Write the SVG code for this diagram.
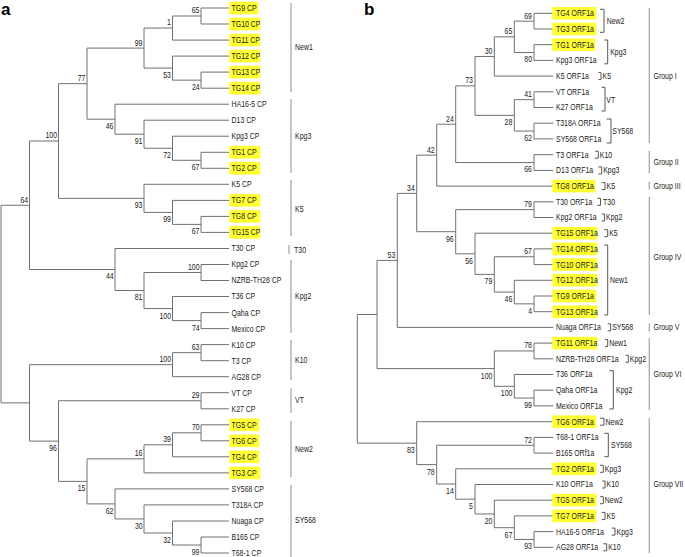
<svg xmlns="http://www.w3.org/2000/svg" width="685" height="557" viewBox="0 0 685 557">
<style>
text{font-family:"Liberation Sans",Arial,sans-serif;font-size:8.5px;fill:#222;transform-box:fill-box;transform-origin:left center;transform:scaleX(.82)}
.s text{text-anchor:end;transform-origin:right center}
.br{fill:none;stroke:#707070;stroke-width:1}
.hl{fill:#ffff33}
.grp{stroke:#aaa;stroke-width:1.3;fill:none}
.bk{fill:none;stroke:#444;stroke-width:0.9}
text.pl{font-size:17px;font-weight:bold;fill:#000;transform:none}
</style>
<text class="pl" x="1" y="15">a</text>
<text class="pl" x="364" y="15">b</text>
<g id="a-connectors" class="br">
<path d="M229 8H201V24H229"/>
<path d="M201 16H172.5V40.1H229"/>
<path d="M229 72.1H201V88.2H229"/>
<path d="M229 56.1H172.5V80.15H201"/>
<path d="M172.5 28.05H144V68.1H172.5"/>
<path d="M229 104.2H115V134.2H144"/>
<path d="M229 120.2H144V148.25H172.5"/>
<path d="M229 136.2H172.5V160.3H201"/>
<path d="M229 152.3H201V168.3H229"/>
<path d="M144 48.1H87V119.2H115"/>
<path d="M87 83.65H58.5V198.35H144"/>
<path d="M229 184.3H144V212.4H172.5"/>
<path d="M229 200.4H172.5V224.4H201"/>
<path d="M229 216.4H201V232.4H229"/>
<path d="M58.5 141H29.5V269.5H115"/>
<path d="M229 248.5H115V290.5H144"/>
<path d="M201 272.5H144V308.55H172.5"/>
<path d="M229 264.5H201V280.5H229"/>
<path d="M229 296.5H172.5V320.6H201"/>
<path d="M229 312.6H201V328.6H229"/>
<path d="M29.5 205.25H1V402.9H29.5"/>
<path d="M172.5 364.7H29.5V441.1H58.5"/>
<path d="M201 352.65H172.5V376.7H229"/>
<path d="M229 344.6H201V360.7H229"/>
<path d="M201 400.75H58.5V481.4H87"/>
<path d="M229 392.7H201V408.8H229"/>
<path d="M144 458.85H87V503.9H115"/>
<path d="M172.5 444.8H144V472.9H229"/>
<path d="M201 432.8H172.5V456.8H229"/>
<path d="M229 424.8H201V440.8H229"/>
<path d="M229 488.9H115V518.95H144"/>
<path d="M229 504.9H144V533H172.5"/>
<path d="M229 521H172.5V545H201"/>
<path d="M229 537H201V553H229"/>
</g>
<g id="a-support" class="s">
<text x="199.5" y="13.5">65</text>
<text x="171" y="25.5">1</text>
<text x="142.5" y="45.6">99</text>
<text x="171" y="78.1">53</text>
<text x="199.5" y="90.2">24</text>
<text x="85.5" y="81.2">77</text>
<text x="113.5" y="129.2">46</text>
<text x="57" y="138.5">100</text>
<text x="142.5" y="144.2">91</text>
<text x="171" y="158.3">72</text>
<text x="199.5" y="170.3">67</text>
<text x="28" y="202.8">64</text>
<text x="142.5" y="208.4">93</text>
<text x="171" y="222.4">99</text>
<text x="199.5" y="234.4">67</text>
<text x="113.5" y="279.5">44</text>
<text x="199.5" y="270">100</text>
<text x="142.5" y="300.5">81</text>
<text x="171" y="318.6">100</text>
<text x="199.5" y="330.6">74</text>
<text x="199.5" y="350.2">63</text>
<text x="171" y="362.2">100</text>
<text x="199.5" y="398.3">29</text>
<text x="57" y="451.1">96</text>
<text x="199.5" y="430.3">70</text>
<text x="171" y="442.3">39</text>
<text x="142.5" y="456.4">16</text>
<text x="85.5" y="491.4">15</text>
<text x="113.5" y="513.9">62</text>
<text x="142.5" y="529">30</text>
<text x="171" y="543">32</text>
<text x="199.5" y="555">99</text>
</g>
<g id="a-leaves">
<g id="a-TG9"><rect class="hl" x="229.3" y="1.7" width="29" height="12.6"/><text x="231.5" y="11">TG9 CP</text></g>
<g id="a-TG10"><rect class="hl" x="229.3" y="17.7" width="31" height="12.6"/><text x="231.5" y="27">TG10 CP</text></g>
<g id="a-TG11"><rect class="hl" x="229.3" y="33.8" width="31" height="12.6"/><text x="231.5" y="43.1">TG11 CP</text></g>
<g id="a-TG12"><rect class="hl" x="229.3" y="49.8" width="31" height="12.6"/><text x="231.5" y="59.1">TG12 CP</text></g>
<g id="a-TG13"><rect class="hl" x="229.3" y="65.8" width="31" height="12.6"/><text x="231.5" y="75.1">TG13 CP</text></g>
<g id="a-TG14"><rect class="hl" x="229.3" y="81.9" width="31" height="12.6"/><text x="231.5" y="91.2">TG14 CP</text></g>
<g id="a-HA16-5"><text x="231.5" y="107.2">HA16-5 CP</text></g>
<g id="a-D13"><text x="231.5" y="123.2">D13 CP</text></g>
<g id="a-Kpg3"><text x="231.5" y="139.2">Kpg3 CP</text></g>
<g id="a-TG1"><rect class="hl" x="229.3" y="146" width="31" height="12.6"/><text x="231.5" y="155.3">TG1 CP</text></g>
<g id="a-TG2"><rect class="hl" x="229.3" y="162" width="31" height="12.6"/><text x="231.5" y="171.3">TG2 CP</text></g>
<g id="a-K5"><text x="231.5" y="187.3">K5 CP</text></g>
<g id="a-TG7"><rect class="hl" x="229.3" y="194.1" width="31" height="12.6"/><text x="231.5" y="203.4">TG7 CP</text></g>
<g id="a-TG8"><rect class="hl" x="229.3" y="210.1" width="31" height="12.6"/><text x="231.5" y="219.4">TG8 CP</text></g>
<g id="a-TG15"><rect class="hl" x="229.3" y="226.1" width="31" height="12.6"/><text x="231.5" y="235.4">TG15 CP</text></g>
<g id="a-T30"><text x="231.5" y="251.5">T30 CP</text></g>
<g id="a-Kpg2"><text x="231.5" y="267.5">Kpg2 CP</text></g>
<g id="a-NZRB"><text x="231.5" y="283.5">NZRB-TH28 CP</text></g>
<g id="a-T36"><text x="231.5" y="299.5">T36 CP</text></g>
<g id="a-Qaha"><text x="231.5" y="315.6">Qaha CP</text></g>
<g id="a-Mexico"><text x="231.5" y="331.6">Mexico CP</text></g>
<g id="a-K10"><text x="231.5" y="347.6">K10 CP</text></g>
<g id="a-T3"><text x="231.5" y="363.7">T3 CP</text></g>
<g id="a-AG28"><text x="231.5" y="379.7">AG28 CP</text></g>
<g id="a-VT"><text x="231.5" y="395.7">VT CP</text></g>
<g id="a-K27"><text x="231.5" y="411.8">K27 CP</text></g>
<g id="a-TG5"><rect class="hl" x="229.3" y="418.5" width="30" height="12.6"/><text x="231.5" y="427.8">TG5 CP</text></g>
<g id="a-TG6"><rect class="hl" x="229.3" y="434.5" width="30" height="12.6"/><text x="231.5" y="443.8">TG6 CP</text></g>
<g id="a-TG4"><rect class="hl" x="229.3" y="450.5" width="30" height="12.6"/><text x="231.5" y="459.8">TG4 CP</text></g>
<g id="a-TG3"><rect class="hl" x="229.3" y="466.6" width="31" height="12.6"/><text x="231.5" y="475.9">TG3 CP</text></g>
<g id="a-SY568"><text x="231.5" y="491.9">SY568 CP</text></g>
<g id="a-T318A"><text x="231.5" y="507.9">T318A CP</text></g>
<g id="a-Nuaga"><text x="231.5" y="524">Nuaga CP</text></g>
<g id="a-B165"><text x="231.5" y="540">B165 CP</text></g>
<g id="a-T68-1"><text x="231.5" y="556">T68-1 CP</text></g>
</g>
<g id="a-groups">
<path class="grp" d="M291 3V92M291 99.3V172.7M291 180V236M289 245V254M291 260V332.7M291 340V380M291 388.3V412.7M291 420.7V477.3M291 485V557"/>
<text x="295" y="50">New1</text>
<text x="295" y="139">Kpg3</text>
<text x="295" y="212.3">K5</text>
<text x="294" y="253">T30</text>
<text x="295" y="299">Kpg2</text>
<text x="295" y="363">K10</text>
<text x="295" y="403">VT</text>
<text x="295" y="452">New2</text>
<text x="295" y="523">SY568</text>
</g>
<g id="b-connectors" class="br">
<path d="M553.3 13.3H534V29H553.3"/>
<path d="M553.3 44.7H534V60.4H553.3"/>
<path d="M534 21.15H514.3V52.55H534"/>
<path d="M514.3 36.85H494.3V76.1H553.3"/>
<path d="M553.3 91.8H534V107.5H553.3"/>
<path d="M553.3 123.2H534V138.9H553.3"/>
<path d="M534 99.65H514.3V131.05H534"/>
<path d="M494.3 56.48H475V115.35H514.3"/>
<path d="M553.3 154.7H534V170.4H553.3"/>
<path d="M475 85.9H455.7V162.55H534"/>
<path d="M455.7 124.2H436.7V186.1H553.3"/>
<path d="M553.3 201.8H534V217.5H553.3"/>
<path d="M553.3 248.9H534V264.6H553.3"/>
<path d="M553.3 296H534V311.7H553.3"/>
<path d="M553.3 280.3H514.3V303.85H534"/>
<path d="M534 256.75H494.3V292.1H514.3"/>
<path d="M553.3 233.2H475V274.4H494.3"/>
<path d="M534 209.65H455.7V253.8H475"/>
<path d="M436.7 155.15H416.7V231.7H455.7"/>
<path d="M416.7 193.4H397.3V327.4H553.3"/>
<path d="M553.3 343.1H534V358.8H553.3"/>
<path d="M553.3 390.2H534V405.9H553.3"/>
<path d="M553.3 374.5H514.3V398.05H534"/>
<path d="M534 350.95H494.3V386.3H514.3"/>
<path d="M397.3 260.4H377V368.6H494.3"/>
<path d="M377 314.5H357.3V443.15H416.7"/>
<path d="M553.3 421.7H416.7V464.6H436.7"/>
<path d="M553.3 437.4H534V453.1H553.3"/>
<path d="M534 445.25H436.7V484H455.7"/>
<path d="M553.3 468.8H455.7V499.2H475"/>
<path d="M553.3 484.5H475V513.95H494.3"/>
<path d="M553.3 500.2H494.3V527.7H514.3"/>
<path d="M553.3 515.9H514.3V539.45H534"/>
<path d="M553.3 531.6H534V547.3H553.3"/>
</g>
<g id="b-support" class="s">
<text x="532" y="18.7">69</text>
<text x="532" y="62.5">80</text>
<text x="512.3" y="34.4">65</text>
<text x="492.3" y="54">30</text>
<text x="532" y="97.2">41</text>
<text x="532" y="141">62</text>
<text x="512.3" y="125.3">28</text>
<text x="473" y="83.5">73</text>
<text x="532" y="172.5">66</text>
<text x="453.7" y="121.8">24</text>
<text x="434.7" y="152.7">42</text>
<text x="532" y="207.2">79</text>
<text x="532" y="254.3">67</text>
<text x="532" y="313.8">4</text>
<text x="512.3" y="302.1">46</text>
<text x="492.3" y="284.4">79</text>
<text x="473" y="263.8">56</text>
<text x="453.7" y="241.7">96</text>
<text x="414.7" y="191">34</text>
<text x="395.3" y="258">53</text>
<text x="532" y="348.5">78</text>
<text x="532" y="408">99</text>
<text x="512.3" y="396.3">100</text>
<text x="492.3" y="378.6">100</text>
<text x="532" y="442.8">72</text>
<text x="532" y="549.4">93</text>
<text x="512.3" y="537.7">67</text>
<text x="492.3" y="524">20</text>
<text x="473" y="509.2">5</text>
<text x="453.7" y="494">14</text>
<text x="434.7" y="474.6">78</text>
<text x="414.7" y="453.2">83</text>
</g>
<g id="b-leaves">
<g id="b-TG4"><rect class="hl" x="552.3" y="7" width="44" height="12.6"/><text x="556" y="16.3">TG4 ORF1a</text></g>
<g id="b-TG3"><rect class="hl" x="552.3" y="22.7" width="44" height="12.6"/><text x="556" y="32">TG3 ORF1a</text></g>
<g id="b-TG1"><rect class="hl" x="552.3" y="38.4" width="43" height="12.6"/><text x="556" y="47.7">TG1 ORF1a</text></g>
<g id="b-Kpg3"><text x="556" y="63.4">Kpg3 ORF1a</text></g>
<g id="b-K5"><text x="556" y="79.1">K5 ORF1a</text></g>
<g id="b-VT"><text x="556" y="94.8">VT ORF1a</text></g>
<g id="b-K27"><text x="556" y="110.5">K27 ORF1a</text></g>
<g id="b-T318A"><text x="556" y="126.2">T318A ORF1a</text></g>
<g id="b-SY568"><text x="556" y="141.9">SY568 ORF1a</text></g>
<g id="b-T3"><text x="556" y="157.7">T3 ORF1a</text></g>
<g id="b-D13"><text x="556" y="173.4">D13 ORF1a</text></g>
<g id="b-TG8"><rect class="hl" x="552.3" y="179.8" width="43" height="12.6"/><text x="556" y="189.1">TG8 ORF1a</text></g>
<g id="b-T30"><text x="556" y="204.8">T30 ORF1a</text></g>
<g id="b-Kpg2"><text x="556" y="220.5">Kpg2 ORF1a</text></g>
<g id="b-TG15"><rect class="hl" x="552.3" y="226.9" width="45" height="12.6"/><text x="556" y="236.2">TG15 ORF1a</text></g>
<g id="b-TG14"><rect class="hl" x="552.3" y="242.6" width="45" height="12.6"/><text x="556" y="251.9">TG14 ORF1a</text></g>
<g id="b-TG10"><rect class="hl" x="552.3" y="258.3" width="45" height="12.6"/><text x="556" y="267.6">TG10 ORF1a</text></g>
<g id="b-TG12"><rect class="hl" x="552.3" y="274" width="45" height="12.6"/><text x="556" y="283.3">TG12 ORF1a</text></g>
<g id="b-TG9"><rect class="hl" x="552.3" y="289.7" width="44" height="12.6"/><text x="556" y="299">TG9 ORF1a</text></g>
<g id="b-TG13"><rect class="hl" x="552.3" y="305.4" width="45" height="12.6"/><text x="556" y="314.7">TG13 ORF1a</text></g>
<g id="b-Nuaga"><text x="556" y="330.4">Nuaga ORF1a</text></g>
<g id="b-TG11"><rect class="hl" x="552.3" y="336.8" width="45" height="12.6"/><text x="556" y="346.1">TG11 ORF1a</text></g>
<g id="b-NZRB"><text x="556" y="361.8">NZRB-TH28 ORF1a</text></g>
<g id="b-T36"><text x="556" y="377.5">T36 ORF1a</text></g>
<g id="b-Qaha"><text x="556" y="393.2">Qaha ORF1a</text></g>
<g id="b-Mexico"><text x="556" y="408.9">Mexico ORF1a</text></g>
<g id="b-TG6"><rect class="hl" x="552.3" y="415.4" width="44" height="12.6"/><text x="556" y="424.7">TG6 ORF1a</text></g>
<g id="b-T68-1"><text x="556" y="440.4">T68-1 ORF1a</text></g>
<g id="b-B165"><text x="556" y="456.1">B165 ORf1a</text></g>
<g id="b-TG2"><rect class="hl" x="552.3" y="462.5" width="44" height="12.6"/><text x="556" y="471.8">TG2 ORF1a</text></g>
<g id="b-K10"><text x="556" y="487.5">K10 ORF1a</text></g>
<g id="b-TG5"><rect class="hl" x="552.3" y="493.9" width="44" height="12.6"/><text x="556" y="503.2">TG5 ORF1a</text></g>
<g id="b-TG7"><rect class="hl" x="552.3" y="509.6" width="44" height="12.6"/><text x="556" y="518.9">TG7 ORF1a</text></g>
<g id="b-HA16-5"><text x="556" y="534.6">HA16-5 ORF1a</text></g>
<g id="b-AG28"><text x="556" y="550.3">AG28 ORF1a</text></g>
</g>
<g id="b-lineages">
<path class="bk" d="M600 9.3H604V32.3H600M604.3 40H607.7V63.8H604.3M598.3 72.6H601V79.6H598.3M601.7 87.3H605V111H601.7M606.7 119H611V143H606.7M595 151.2H598.3V158.2H595M598.3 166.9H601.7V173.9H598.3M601.7 182.6H605V189.6H601.7M597.3 198.3H600.5V205.3H597.3M601.7 214H604.5V221H601.7M604.3 229.7H607.7V236.7H604.3M604.3 245H607.7V315H604.3M607.7 323.9H610.7V330.9H607.7M605 339.6H607.7V346.6H605M625.5 355.3H628.3V362.3H625.5M609.3 370.7H613.3V409H609.3M600 418.2H604V425.2H600M604.3 433.3H608.3V456.7H604.3M600 465.3H603.3V472.3H600M602.3 481H605V488H602.3M600 496.7H603.3V503.7H600M601.7 512.4H605V519.4H601.7M611.7 528.1H615V535.1H611.7M603.3 543.8H606.7V550.8H603.3"/>
<text x="606.7" y="24.2">New2</text>
<text x="610.2" y="55.5">Kpg3</text>
<text x="602.5" y="79.1">K5</text>
<text x="606.3" y="102.6">VT</text>
<text x="612.3" y="134">SY568</text>
<text x="599.8" y="157.7">K10</text>
<text x="603.2" y="173.4">Kpg3</text>
<text x="606.5" y="189.1">K5</text>
<text x="603" y="204.8">T30</text>
<text x="606" y="220.5">Kpg2</text>
<text x="609.2" y="236.2">K5</text>
<text x="610" y="283.3">New1</text>
<text x="612.2" y="330.4">SY568</text>
<text x="609.2" y="346.1">New1</text>
<text x="629.8" y="361.8">Kpg2</text>
<text x="616" y="393.2">Kpg2</text>
<text x="605.5" y="424.7">New2</text>
<text x="611" y="448.2">SY568</text>
<text x="604.8" y="471.8">Kpg3</text>
<text x="606.5" y="487.5">K10</text>
<text x="604.8" y="503.2">New2</text>
<text x="606.5" y="518.9">K5</text>
<text x="616.5" y="534.6">Kpg3</text>
<text x="608.2" y="550.3">K10</text>
</g>
<g id="b-groups">
<path class="grp" d="M649.3 8.3V143.3M649.3 150.7V173.3M649.3 181.7V189.5M649.3 196.7V315M649.3 323.5V331.5M649.3 338.3V410M649.3 418.3V553.3"/>
<text x="653.5" y="79">Group I</text>
<text x="653.5" y="165.5">Group II</text>
<text x="653.5" y="189.1">Group III</text>
<text x="653.5" y="259.7">Group IV</text>
<text x="653.5" y="330.4">Group V</text>
<text x="653.5" y="377.3">Group VI</text>
<text x="653.5" y="487.3">Group VII</text>
</g>
</svg>
